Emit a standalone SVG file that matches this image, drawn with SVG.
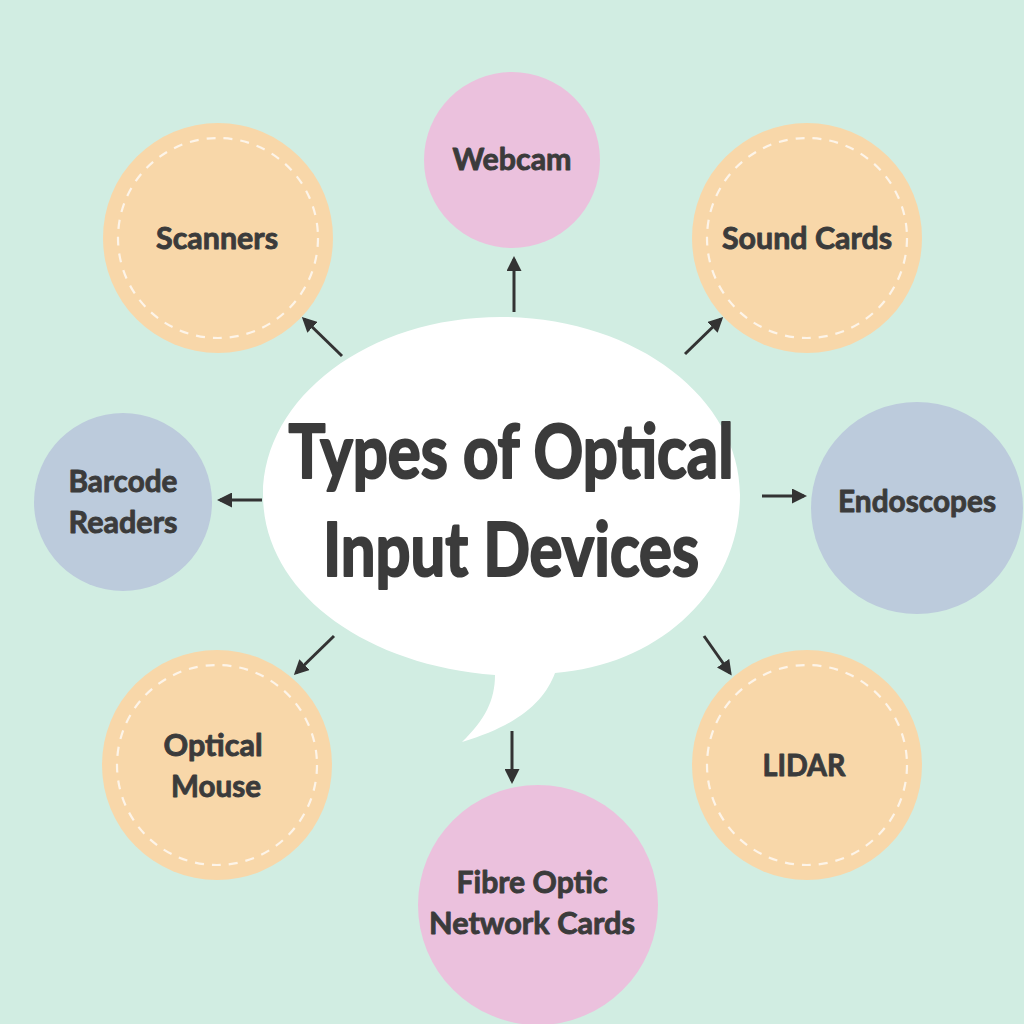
<svg xmlns="http://www.w3.org/2000/svg" width="1024" height="1024" viewBox="0 0 1024 1024">
<defs>
<style>
.bg{fill:#d1ede2}
.org{fill:#f8d7a9}
.pnk{fill:#ebc1dd}
.blu{fill:#bccbdc}
.dash{fill:none;stroke:#fdf4e8;stroke-width:2.2;stroke-dasharray:9 8}
.lbl{font-family:Lato,"Open Sans",sans-serif;font-weight:700;font-size:31px;fill:#3b3b3b;stroke:#3b3b3b;stroke-width:0.9;stroke-linejoin:round;text-anchor:middle}
.title{font-family:Lato,"Open Sans",sans-serif;font-weight:700;font-size:75px;fill:#3b3b3b;stroke:#3b3b3b;stroke-width:2.2;stroke-linejoin:round;text-anchor:middle}
.conn{stroke:#333;stroke-width:3;fill:none;marker-end:url(#ah)}
</style>
<marker id="ah" viewBox="0 0 10 10" refX="8" refY="5" markerWidth="5" markerHeight="5" orient="auto" markerUnits="strokeWidth">
<path d="M0,0 L10,5 L0,10 Z" fill="#333"/>
</marker>
</defs>
<rect class="bg" x="0" y="0" width="1024" height="1024"/>

<g id="center">
<path d="M501,317 C633,317 740,397 740,495 C740,590 660,665 555,673 C545,700 520,725 462,742 C485,720 495,700 495,675 C362,665 263,590 263,495 C263,397 369,317 501,317 Z" fill="#ffffff"/>
<text class="title" x="511" y="478" textLength="445" lengthAdjust="spacingAndGlyphs">Types of Optical</text>
<text class="title" x="511" y="576" textLength="376" lengthAdjust="spacingAndGlyphs">Input Devices</text>
</g>

<g id="scanners">
<circle class="org" cx="218" cy="238" r="115"/>
<circle class="dash" cx="218" cy="238" r="100"/>
<text class="lbl" x="217" y="249" textLength="122" lengthAdjust="spacingAndGlyphs">Scanners</text>
</g>

<g id="webcam">
<circle class="pnk" cx="512" cy="160" r="88"/>
<text class="lbl" x="512" y="170" textLength="119" lengthAdjust="spacingAndGlyphs">Webcam</text>
</g>

<g id="sound-cards">
<circle class="org" cx="807" cy="238" r="115"/>
<circle class="dash" cx="807" cy="238" r="100"/>
<text class="lbl" x="807" y="249" textLength="170" lengthAdjust="spacingAndGlyphs">Sound Cards</text>
</g>

<g id="barcode-readers">
<circle class="blu" cx="123" cy="502" r="89"/>
<text class="lbl" x="123" y="492" textLength="109" lengthAdjust="spacingAndGlyphs">Barcode</text>
<text class="lbl" x="123" y="533" textLength="109" lengthAdjust="spacingAndGlyphs">Readers</text>
</g>

<g id="endoscopes">
<circle class="blu" cx="917" cy="508" r="106"/>
<text class="lbl" x="917" y="512" textLength="158" lengthAdjust="spacingAndGlyphs">Endoscopes</text>
</g>

<g id="optical-mouse">
<circle class="org" cx="217" cy="765" r="115"/>
<circle class="dash" cx="217" cy="765" r="100"/>
<text class="lbl" x="213" y="756" textLength="99" lengthAdjust="spacingAndGlyphs">Optical</text>
<text class="lbl" x="216" y="797" textLength="90" lengthAdjust="spacingAndGlyphs">Mouse</text>
</g>

<g id="lidar">
<circle class="org" cx="807" cy="765" r="115"/>
<circle class="dash" cx="807" cy="765" r="100"/>
<text class="lbl" x="804" y="776" textLength="83" lengthAdjust="spacingAndGlyphs">LIDAR</text>
</g>

<g id="fibre-optic">
<circle class="pnk" cx="538" cy="905" r="120"/>
<text class="lbl" x="532" y="893" textLength="151" lengthAdjust="spacingAndGlyphs">Fibre Optic</text>
<text class="lbl" x="532" y="934" textLength="206" lengthAdjust="spacingAndGlyphs">Network Cards</text>
</g>

<g id="connectors">
<line class="conn" x1="514" y1="312" x2="514" y2="259"/>
<line class="conn" x1="342" y1="356" x2="304" y2="319"/>
<line class="conn" x1="685" y1="354" x2="721" y2="319"/>
<line class="conn" x1="262" y1="500" x2="220" y2="500"/>
<line class="conn" x1="762" y1="496" x2="804" y2="496"/>
<line class="conn" x1="334" y1="636" x2="296" y2="673"/>
<line class="conn" x1="704" y1="636" x2="730" y2="673"/>
<line class="conn" x1="512" y1="731" x2="512" y2="781"/>
</g>
</svg>
